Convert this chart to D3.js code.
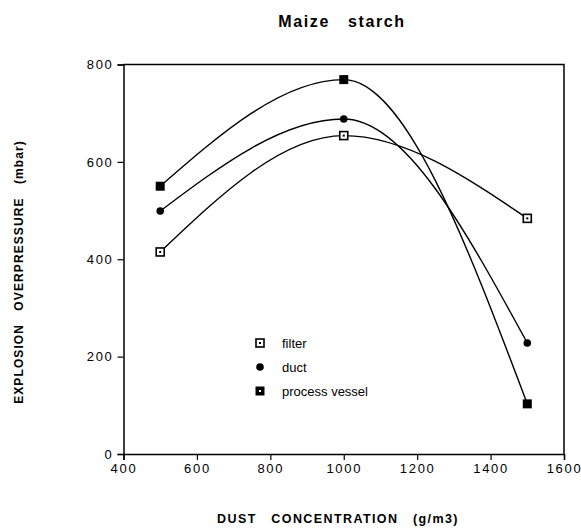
<!DOCTYPE html>
<html>
<head>
<meta charset="utf-8">
<script src="https://cdn.jsdelivr.net/npm/d3@7"></script>
<style>
  body { margin: 0; background: #fff; }
  svg { font-family: "Liberation Sans", Arial, sans-serif; }
  .tick text { font-size: 13px; letter-spacing: 1.7px; fill: #000; }
</style>
</head>
<body>
<div id="chart"></div>
<script>
const concentration = [500, 1000, 1500];
const filterValues = [415, 654, 484];
const ductValues = [499, 688, 228];
const vesselValues = [550, 769, 103];
const seriesNames = ["filter", "duct", "process vessel"];
const xTicks = [400, 600, 800, 1000, 1200, 1400, 1600];
const yTicks = [0, 200, 400, 600, 800];

const width = 581, height = 531;
const margin = { left: 123.5, right: 17, top: 64.5, bottom: 77 };

const svg = d3.select("#chart").append("svg")
  .attr("width", width)
  .attr("height", height);

const x = d3.scaleLinear().domain([400, 1600]).range([margin.left, width - margin.right]);
const y = d3.scaleLinear().domain([0, 800]).range([height - margin.bottom, margin.top]);

// frame (top and right)
svg.append("path")
  .attr("d", `M${x(400)},${y(800)}H${x(1600)}V${y(0)}`)
  .attr("fill", "none")
  .attr("stroke", "#000")
  .attr("stroke-width", 1.5);

// minor ticks
const xAxisMinor = d3.axisBottom(x).tickValues(d3.range(500, 1600, 200)).tickSize(4).tickFormat("");
const yAxisMinor = d3.axisLeft(y).tickValues([100, 300, 500, 700]).tickSize(4).tickFormat("");

const xAxis = d3.axisBottom(x).tickValues(xTicks).tickSize(6).tickPadding(4).tickFormat(d3.format("d"));
const yAxis = d3.axisLeft(y).tickValues(yTicks).tickSize(6).tickPadding(4).tickFormat(d3.format("d"));

const gx = svg.append("g").attr("transform", `translate(0,${y(0)})`);
gx.call(xAxisMinor);
gx.call(xAxis);
const gy = svg.append("g").attr("transform", `translate(${x(400)},0)`);
gy.call(yAxisMinor);
gy.call(yAxis);

svg.selectAll(".domain").attr("stroke-width", 1.5);
svg.selectAll(".tick line").attr("stroke-width", 1.2);

// curves
const series = [filterValues, ductValues, vesselValues];
const line = d3.line()
  .x((d, i) => x(concentration[i]))
  .y(d => y(d))
  .curve(d3.curveMonotoneX);

svg.append("g")
  .selectAll("path")
  .data(series)
  .join("path")
  .attr("d", d => line(d))
  .attr("fill", "none")
  .attr("stroke", "#000")
  .attr("stroke-width", 1.4);

// markers
function drawMarker(g, type, cx, cy) {
  if (type === 0) {
    g.append("rect").attr("x", cx - 4).attr("y", cy - 4).attr("width", 8).attr("height", 8)
      .attr("fill", "#fff").attr("stroke", "#000").attr("stroke-width", 1.6);
    g.append("rect").attr("x", cx - 1).attr("y", cy - 1).attr("width", 2).attr("height", 2)
      .attr("fill", "#000");
  } else if (type === 1) {
    g.append("circle").attr("cx", cx).attr("cy", cy).attr("r", 3.8).attr("fill", "#000");
  } else {
    g.append("rect").attr("x", cx - 4.5).attr("y", cy - 4.5).attr("width", 9).attr("height", 9)
      .attr("fill", "#000");
  }
}

const markers = svg.append("g");
series.forEach((vals, s) => {
  vals.forEach((v, i) => drawMarker(markers, s, x(concentration[i]), y(v)));
});

// legend
const legend = svg.append("g");
seriesNames.forEach((name, s) => {
  const ly = 343 + s * 24;
  drawMarker(legend, s, 260, ly);
  if (s === 2) {
    legend.append("rect").attr("x", 259).attr("y", ly - 1).attr("width", 2).attr("height", 2).attr("fill", "#fff");
  }
  legend.append("text")
    .attr("x", 282)
    .attr("y", ly + 4.5)
    .attr("font-size", 13)
    .text(name);
});

// titles
svg.append("text")
  .attr("x", 342)
  .attr("y", 27)
  .attr("text-anchor", "middle")
  .attr("font-size", 16)
  .attr("font-weight", "bold")
  .attr("letter-spacing", 1.6)
  .style("white-space", "pre")
  .text("Maize   starch");

svg.append("text")
  .attr("x", 338)
  .attr("y", 523)
  .attr("text-anchor", "middle")
  .attr("font-size", 12.5)
  .attr("font-weight", "bold")
  .attr("letter-spacing", 1.4)
  .style("white-space", "pre")
  .text("DUST   CONCENTRATION   (g/m3)");

svg.append("text")
  .attr("transform", "translate(23,272) rotate(-90)")
  .attr("text-anchor", "middle")
  .attr("font-size", 12)
  .attr("font-weight", "bold")
  .attr("letter-spacing", 1.1)
  .style("white-space", "pre")
  .text("EXPLOSION   OVERPRESSURE   (mbar)");
</script>
</body>
</html>
